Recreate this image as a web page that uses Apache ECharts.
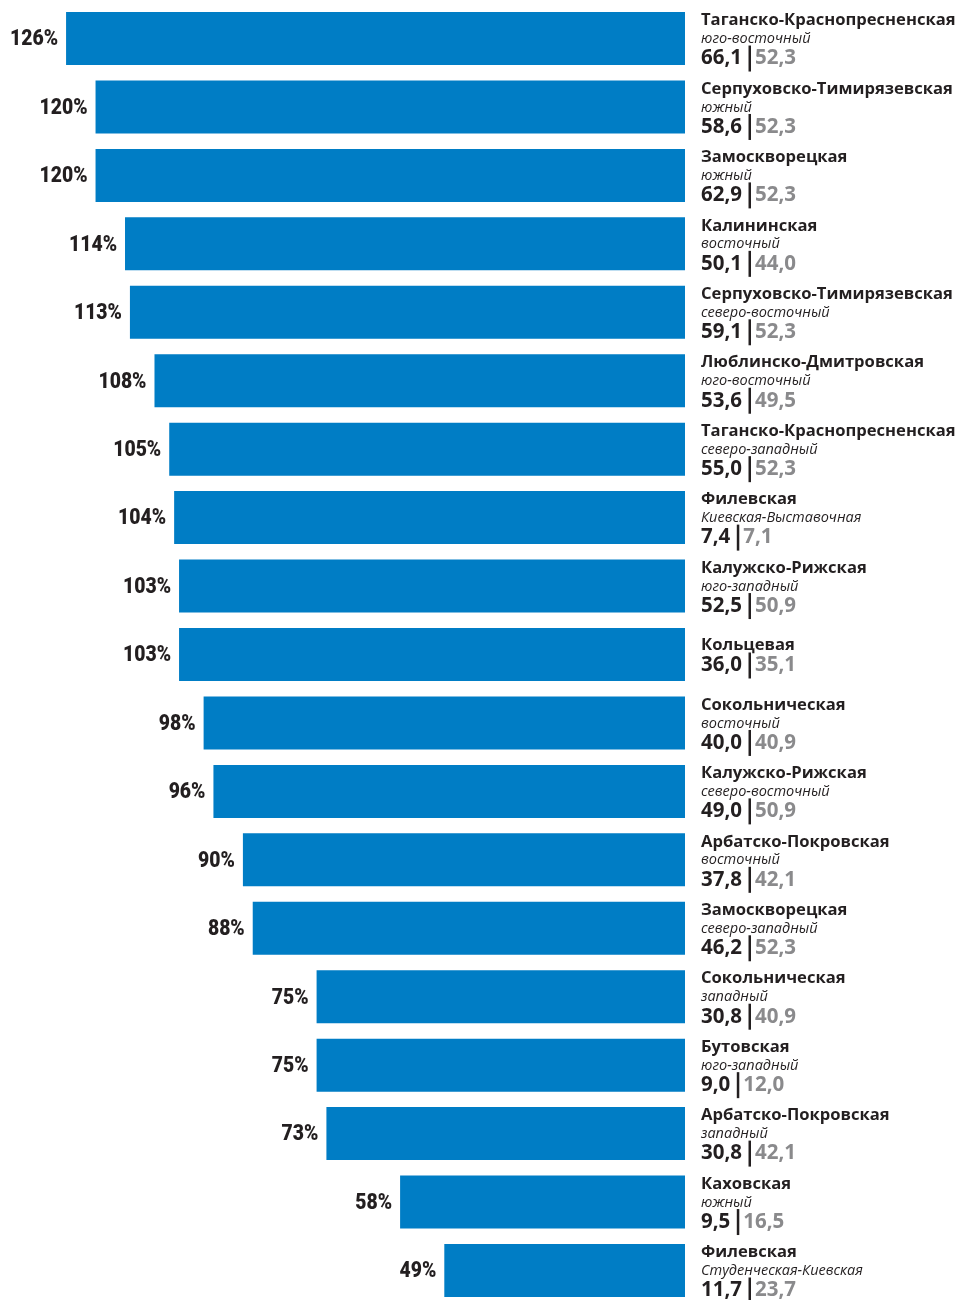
<!DOCTYPE html>
<html><head><meta charset="utf-8">
<script src="https://cdn.jsdelivr.net/npm/echarts@6/dist/echarts.min.js"></script>
<style>html,body{margin:0;padding:0;background:#fff;overflow:hidden}#c{width:959px;height:1310px}</style>
</head><body><div id="c"></div>
<script>
const names = ["Таганско-Краснопресненская","Серпуховско-Тимирязевская","Замоскворецкая","Калининская","Серпуховско-Тимирязевская","Люблинско-Дмитровская","Таганско-Краснопресненская","Филевская","Калужско-Рижская","Кольцевая","Сокольническая","Калужско-Рижская","Арбатско-Покровская","Замоскворецкая","Сокольническая","Бутовская","Арбатско-Покровская","Каховская","Филевская"];
const directions = ["юго-восточный","южный","южный","восточный","северо-восточный","юго-восточный","северо-западный","Киевская-Выставочная","юго-западный","","восточный","северо-восточный","восточный","северо-западный","западный","юго-западный","западный","южный","Студенческая-Киевская"];
const percents = [126,120,120,114,113,108,105,104,103,103,98,96,90,88,75,75,73,58,49];
const current = ["66,1","58,6","62,9","50,1","59,1","53,6","55,0","7,4","52,5","36,0","40,0","49,0","37,8","46,2","30,8","9,0","30,8","9,5","11,7"];
const previous = ["52,3","52,3","52,3","44,0","52,3","49,5","52,3","7,1","50,9","35,1","40,9","50,9","42,1","52,3","40,9","12,0","42,1","16,5","23,7"];

const chart = echarts.init(document.getElementById('c'), null, {renderer:'canvas'});
const sansFont = '"Open Sans", "Noto Sans", sans-serif';
chart.setOption({
  animation:false,
  grid:{left:0,width:685,top:4.3,height:1300.4,containLabel:false},
  xAxis:{type:'value',inverse:true,min:0,max:139.45,show:false},
  yAxis:{type:'category',data:names,inverse:true,position:'right',
    axisLine:{show:false},axisTick:{show:false},splitLine:{show:false},
    axisLabel:{margin:16,align:'left',verticalAlign:'middle',padding:[3,0,0,0],
      formatter:function(v,i){
        const d = directions[i];
        let s = '{n|'+v+'}\n';
        if(d) s += '{d|'+d+'}\n';
        s += '{v|'+current[i]+'}{g|}{s|}{p|'+previous[i]+'}';
        return s;
      },
      rich:{
        n:{fontFamily:sansFont,fontWeight:'bold',fontSize:16.6,color:'#231f20',lineHeight:19},
        d:{fontFamily:sansFont,fontStyle:'italic',fontSize:14.5,color:'#231f20',lineHeight:18},
        v:{fontFamily:sansFont,fontWeight:'bold',fontSize:20.5,color:'#231f20',lineHeight:21},
        g:{width:6.5,height:2,lineHeight:21},
        s:{width:2.5,height:26,backgroundColor:'#231f20',lineHeight:21},
        p:{fontFamily:sansFont,fontWeight:'bold',fontSize:20.5,color:'#8a8a8c',lineHeight:21,padding:[0,0,0,4]}
      }}},
  series:[
    {type:'bar',data:percents,barWidth:53,itemStyle:{color:'#007dc5'},z:2},
    {type:'custom',z:3,data:percents.map((v,i)=>[v,i]),encode:{x:0,y:1},
      renderItem:function(params,api){
        const p = api.coord([api.value(0), api.value(1)]);
        return {type:'text',x:p[0]-8,y:p[1]+1.5,scaleX:0.9,
          style:{text:api.value(0)+'%',align:'right',verticalAlign:'middle',
            font:'900 21.5px Roboto, "Open Sans", sans-serif',fill:'#231f20'}};
      }}
  ]
});
</script></body></html>
